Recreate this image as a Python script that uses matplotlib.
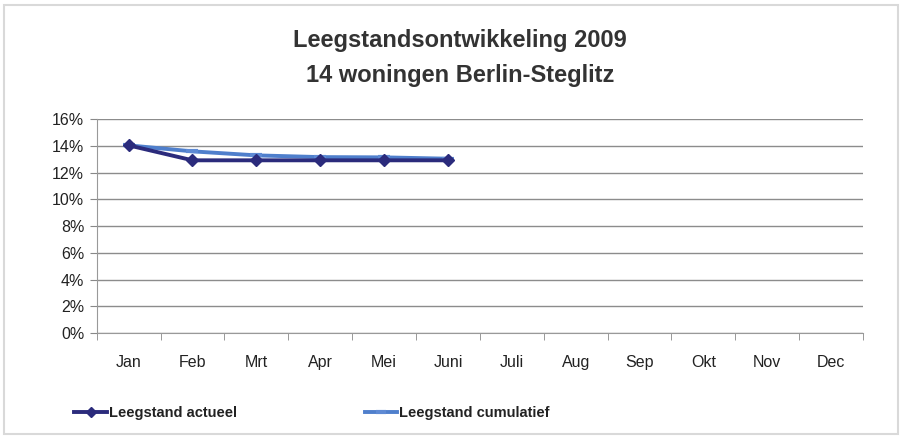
import matplotlib.pyplot as plt
from matplotlib.patches import Rectangle
from matplotlib.ticker import FuncFormatter, FixedLocator

plt.rcParams['font.family'] = ['Liberation Sans', 'DejaVu Sans']

maanden = ['Jan', 'Feb', 'Mrt', 'Apr', 'Mei', 'Juni', 'Juli', 'Aug', 'Sep', 'Okt', 'Nov', 'Dec']
actueel = [14.05, 12.93, 12.93, 12.93, 12.93, 12.93]
cumulatief = [14.05, 13.6, 13.3, 13.17, 13.15, 13.05]

fig = plt.figure(figsize=(9.02, 4.38), dpi=100)
ax = fig.add_axes([0.1072, 0.2397, 0.8496, 0.4879])

x = list(range(len(maanden)))
ax.plot(x[:len(cumulatief)], cumulatief, color='#4F7FCC', lw=2.8, marker='_',
        markersize=9, markeredgewidth=3, markeredgecolor='#5E8AD4',
        label='Leegstand cumulatief', zorder=3)
ax.plot(x[:len(actueel)], actueel, color='#2B2B7C', lw=2.8, marker='D',
        markersize=6, label='Leegstand actueel', zorder=4)

ax.set_xlim(-0.5, 11.5)
ax.set_ylim(0, 16)
ax.set_yticks(range(0, 17, 2))
ax.yaxis.set_major_formatter(FuncFormatter(lambda v, p: '%d%%' % v))
ax.set_xticks(x)
ax.set_xticklabels(maanden)
ax.xaxis.set_minor_locator(FixedLocator([i + 0.5 for i in range(-1, 12)]))
ax.tick_params(axis='x', which='major', length=0, pad=16, labelsize=11.5)
ax.tick_params(axis='x', which='minor', length=5, color='#888888', direction='out')
ax.tick_params(axis='y', length=5, color='#888888', labelsize=11.5, pad=4)
for lbl in ax.get_xticklabels() + ax.get_yticklabels():
    lbl.set_color('#222222')

ax.grid(axis='y', color='#8C8C8C', lw=1)
ax.set_axisbelow(True)
for s in ['top', 'right']:
    ax.spines[s].set_visible(False)
ax.spines['left'].set_color('#999999')
ax.spines['bottom'].set_color('#999999')

fig.text(0.51, 0.908, 'Leegstandsontwikkeling 2009', ha='center', va='center',
         fontsize=17, fontweight='bold', color='#333333')
fig.text(0.51, 0.827, '14 woningen Berlin-Steglitz', ha='center', va='center',
         fontsize=17, fontweight='bold', color='#333333')

h, l = ax.get_legend_handles_labels()
leg = fig.legend(h[::-1], l[::-1], loc='center left', bbox_to_anchor=(0.068, 0.057),
                 ncol=2, frameon=False, handlelength=2.2, handletextpad=0.15,
                 columnspacing=8.8, markerscale=0.8,
                 prop={'weight': 'bold', 'size': 10.5})
for t in leg.get_texts():
    t.set_color('#222222')

fig.patches.append(Rectangle((4 / 902, 4 / 438), 894 / 902, 429 / 438,
                             transform=fig.transFigure, fill=False,
                             edgecolor='#D9D9D9', lw=1.5))

fig.savefig('out.png', dpi=100)
